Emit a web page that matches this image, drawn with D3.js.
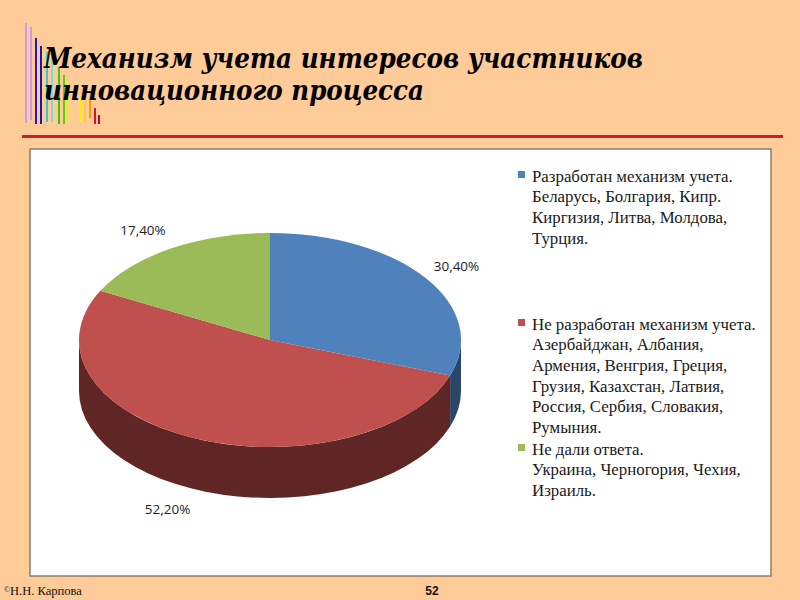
<!DOCTYPE html>
<html>
<head>
<meta charset="utf-8">
<script src="https://cdn.jsdelivr.net/npm/d3@7"></script>
<style>
  body { margin: 0; background: #FFCB99; }
  svg { display: block; }
</style>
</head>
<body>
<div id="chart"></div>
<script>
// chart data
const categories = ['Разработан механизм учета.', 'Не разработан механизм  учета.', 'Не дали ответа.'];
const values = [30.4, 52.2, 17.4];
const valueLabels = ['30,40%', '52,20%', '17,40%'];
const legendDetails = [
  ['Беларусь, Болгария, Кипр.', 'Киргизия, Литва, Молдова,', 'Турция.'],
  ['Азербайджан, Албания,', 'Армения, Венгрия, Греция,', 'Грузия, Казахстан, Латвия,', 'Россия, Сербия, Словакия,', 'Румыния.'],
  ['Украина, Черногория, Чехия,', 'Израиль.']
];
const titleLines = ['Механизм учета интересов участников', 'инновационного процесса'];

const topColors = ['#4F81BD', '#C0504D', '#9BBB59'];
const sideColors = ['#2B4668', '#5F2625', '#56692F'];

const width = 800;
const height = 600;

const svg = d3.select('#chart').append('svg')
  .attr('width', width)
  .attr('height', height);

svg.append('rect').attr('width', width).attr('height', height).attr('fill', '#FFCB99');

// decorative bars left of the title
const deco = [
  [26, 23, 123, '#CC99EE'], [31, 27, 120, '#CC99EE'],
  [36, 38, 124, '#2A18B0'], [41, 46, 124, '#1A1AA0'],
  [47, 52, 122, '#33CCCC'], [52, 55, 122, '#77DDDD'],
  [59, 67, 124, '#33CC00'], [64, 75, 124, '#66CC00'],
  [69, 82, 122, '#DDEE33'], [80, 97, 122, '#FFEE00'],
  [85, 100, 122, '#FFCC33'], [90, 98, 118, '#FF9900'],
  [95, 108, 124, '#DD1133'], [99, 115, 124, '#CC0022']
];
svg.append('g').selectAll('line')
  .data(deco)
  .enter()
  .append('line')
  .attr('x1', d => d[0]).attr('x2', d => d[0])
  .attr('y1', d => d[1]).attr('y2', d => d[2])
  .attr('stroke', d => d[3])
  .attr('stroke-width', 2);

// title
const title = svg.append('g')
  .style('font-family', '"DejaVu Serif", serif')
  .style('font-weight', 'bold')
  .style('font-style', 'italic')
  .attr('fill', '#000');

const titleTargets = [599, 380];
titleLines.forEach((t, i) => {
  title.append('text')
    .attr('x', 44)
    .attr('y', 68 + i * 32)
    .style('font-size', '27px')
    .attr('textLength', titleTargets[i])
    .attr('lengthAdjust', 'spacingAndGlyphs')
    .text(t);
});

// red rule
svg.append('rect')
  .attr('x', 22).attr('y', 135)
  .attr('width', 761).attr('height', 3)
  .attr('fill', '#CC1F2E');

// chart frame
svg.append('rect')
  .attr('x', 30).attr('y', 149)
  .attr('width', 741).attr('height', 427)
  .attr('fill', '#fff')
  .attr('stroke', '#8B7D6B')
  .attr('stroke-width', 1.5);

// 3D pie
const cx = 270, cy = 340, rx = 191, ry = 107, depth = 51;

const pie = d3.pie().sort(null).value(d => d);
const arcs = pie(values);

const px = a => cx + rx * Math.sin(a);
const py = a => cy - ry * Math.cos(a);

function topPath(d) {
  const large = (d.endAngle - d.startAngle) > Math.PI ? 1 : 0;
  return `M${cx},${cy}L${px(d.startAngle)},${py(d.startAngle)}` +
    `A${rx},${ry} 0 ${large} 1 ${px(d.endAngle)},${py(d.endAngle)}Z`;
}

function sidePath(d) {
  const a0 = Math.max(d.startAngle, Math.PI / 2);
  const a1 = Math.min(d.endAngle, Math.PI * 1.5);
  if (a1 <= a0) return null;
  return `M${px(a0)},${py(a0)}` +
    `A${rx},${ry} 0 0 1 ${px(a1)},${py(a1)}` +
    `L${px(a1)},${py(a1) + depth}` +
    `A${rx},${ry} 0 0 0 ${px(a0)},${py(a0) + depth}Z`;
}

const pieG = svg.append('g');

pieG.selectAll('path.side')
  .data(arcs.filter(d => sidePath(d)))
  .enter()
  .append('path')
  .attr('class', 'side')
  .attr('d', sidePath)
  .attr('fill', d => sideColors[d.index]);

pieG.selectAll('path.top')
  .data(arcs)
  .enter()
  .append('path')
  .attr('class', 'top')
  .attr('d', topPath)
  .attr('fill', d => topColors[d.index]);

// data labels, outside end
const mid = d => (d.startAngle + d.endAngle) / 2;
pieG.selectAll('text.lbl')
  .data(arcs)
  .enter()
  .append('text')
  .attr('class', 'lbl')
  .attr('x', d => cx + rx * 1.05 * Math.sin(mid(d)))
  .attr('y', d => {
    const y = cy - ry * 1.2 * Math.cos(mid(d));
    return Math.cos(mid(d)) < 0 ? y + depth : y;
  })
  .attr('dy', '0.35em')
  .attr('text-anchor', d => Math.sin(mid(d)) < 0 ? 'end' : 'start')
  .style('font-family', '"Open Sans", sans-serif')
  .style('font-size', '13.5px')
  .attr('fill', '#1E1E1E')
  .text(d => valueLabels[d.index]);

// legend
const legendX = 532;
const legendTops = [176, 324, 449];
const lineStep = 20.6;

const legend = svg.append('g')
  .style('font-family', '"Liberation Serif", "Times New Roman", serif')
  .attr('fill', '#1A1A1A');

// fit the legend font so its first line matches the picture
const probe = legend.append('text').style('font-size', '15px').text(categories[0]);
const legendSize = 15 * 201 / probe.node().getComputedTextLength();
probe.remove();

categories.forEach((c, i) => {
  const y0 = legendTops[i];
  legend.append('rect')
    .attr('x', 518).attr('y', y0 - 5)
    .attr('width', 7).attr('height', 7)
    .attr('fill', topColors[i]);
  [c].concat(legendDetails[i]).forEach((line, j) => {
    legend.append('text')
      .attr('x', legendX)
      .attr('y', y0 + j * lineStep)
      .attr('dy', '0.35em')
      .style('font-size', legendSize + 'px')
      .text(line);
  });
});

// footer
const foot = svg.append('g');
foot.append('text')
  .attr('x', 4).attr('y', 595)
  .style('font-family', '"Liberation Serif", serif')
  .style('font-size', '12.5px')
  .attr('fill', '#111')
  .html('<tspan style="font-size:8px" dy="-3">©</tspan><tspan dy="3">Н.Н. Карпова</tspan>');
foot.append('text')
  .attr('x', 432).attr('y', 595)
  .attr('text-anchor', 'middle')
  .style('font-family', '"Liberation Sans Narrow", "Liberation Sans", sans-serif')
  .style('font-weight', 'bold')
  .style('font-size', '12px')
  .attr('fill', '#111')
  .text('52');
</script>
</body>
</html>
